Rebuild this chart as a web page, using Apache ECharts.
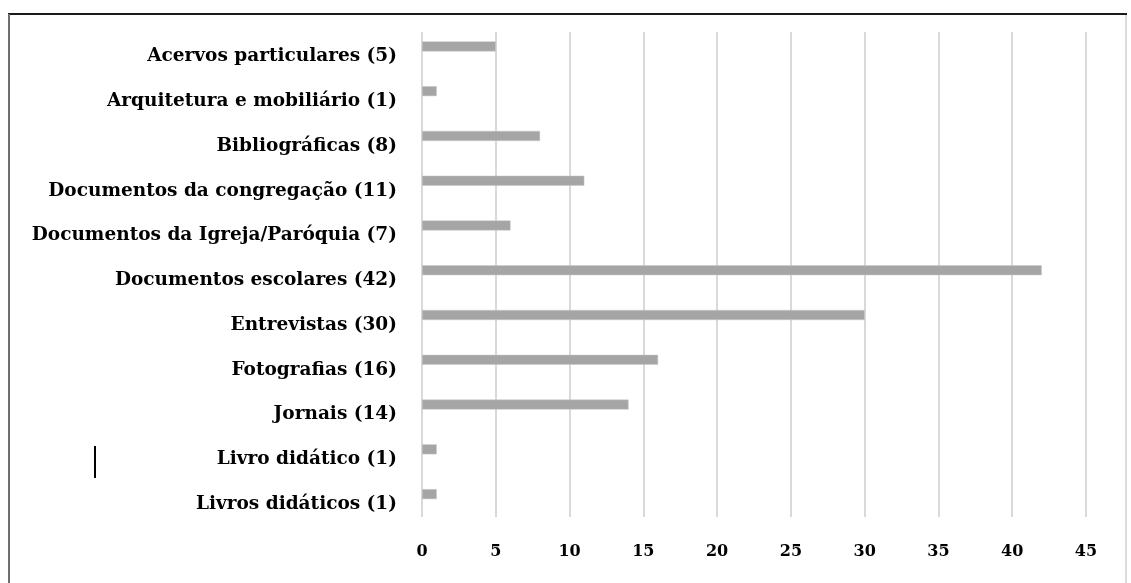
<!DOCTYPE html>
<html>
<head>
<meta charset="utf-8">
<script src="https://cdn.jsdelivr.net/npm/echarts@6/dist/echarts.min.js"></script>
<style>
  html, body { margin: 0; padding: 0; background: #ffffff; }
  #chart { width: 1131px; height: 583px; }
</style>
</head>
<body>
<div id="chart"></div>
<script>
// Tipos de fontes utilizadas (número de trabalhos)
const categories = [
  'Acervos particulares (5)',
  'Arquitetura e mobiliário (1)',
  'Bibliográficas (8)',
  'Documentos da congregação (11)',
  'Documentos da Igreja/Paróquia (7)',
  'Documentos escolares (42)',
  'Entrevistas (30)',
  'Fotografias (16)',
  'Jornais (14)',
  'Livro didático (1)',
  'Livros didáticos (1)'
];
const values = [5, 1, 8, 11, 6, 42, 30, 16, 14, 1, 1];
const xTicks = [0, 5, 10, 15, 20, 25, 30, 35, 40, 45];

const serif = '"DejaVu Serif", "Liberation Serif", serif';
const xMin = xTicks[0];
const xMax = xTicks[xTicks.length - 1];

const chart = echarts.init(document.getElementById('chart'), null, { renderer: 'canvas' });

chart.setOption({
  animation: false,
  backgroundColor: '#ffffff',
  grid: [
    // barras e categorias
    { left: 422, right: 45, top: 24, height: 492.5 },
    // linhas de grade e escala
    { left: 422, right: 45, top: 32, bottom: 66 }
  ],
  xAxis: [
    {
      gridIndex: 0,
      type: 'value',
      min: xMin,
      max: xMax,
      interval: 5,
      axisLine: { show: false },
      axisTick: { show: false },
      splitLine: { show: false },
      axisLabel: { show: false }
    },
    {
      gridIndex: 1,
      type: 'value',
      min: xMin,
      max: xMax,
      interval: 5,
      axisLine: { show: false },
      axisTick: { show: false },
      splitLine: { show: true, lineStyle: { color: '#d9d9d9', width: 2 } },
      axisLabel: {
        margin: 27,
        fontFamily: serif,
        fontWeight: 'bold',
        fontSize: 16,
        color: '#000000'
      }
    }
  ],
  yAxis: [
    {
      gridIndex: 0,
      type: 'category',
      inverse: true,
      data: categories,
      axisLine: { show: false },
      axisTick: { show: false },
      axisLabel: {
        margin: 25,
        verticalAlign: 'top',
        lineHeight: 20,
        fontFamily: serif,
        fontWeight: 'bold',
        fontSize: 18.5,
        color: '#000000'
      }
    },
    {
      gridIndex: 1,
      type: 'value',
      show: false,
      min: 0,
      max: 1,
      splitLine: { show: false }
    }
  ],
  series: [{
    type: 'bar',
    xAxisIndex: 0,
    yAxisIndex: 0,
    data: values,
    barWidth: 10,
    itemStyle: { color: '#a5a5a5', borderColor: '#c8c8c8', borderWidth: 0.5 }
  }],
  graphic: [
    // moldura
    { type: 'line', shape: { x1: 8, y1: 14, x2: 1127, y2: 14 }, style: { stroke: '#1a1a1a', lineWidth: 2 } },
    { type: 'line', shape: { x1: 9, y1: 14, x2: 9, y2: 583 }, style: { stroke: '#6e6e6e', lineWidth: 2 } },
    { type: 'line', shape: { x1: 1126, y1: 15, x2: 1126, y2: 583 }, style: { stroke: '#dcdcdc', lineWidth: 2 } },
    // cursor de texto
    { type: 'rect', shape: { x: 94, y: 446, width: 2, height: 32 }, style: { fill: '#000000' } }
  ]
});
</script>
</body>
</html>
